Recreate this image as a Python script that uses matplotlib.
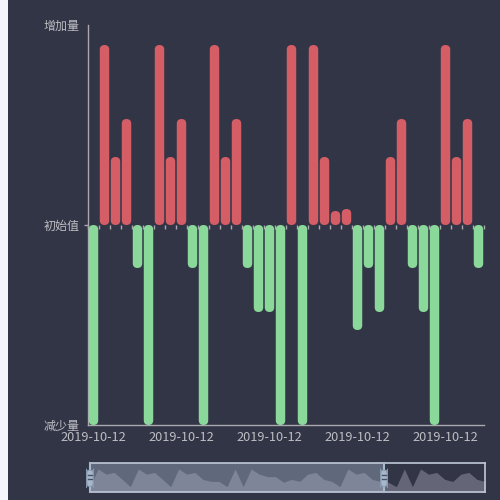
import matplotlib
matplotlib.use("Agg")
import matplotlib.pyplot as plt
from matplotlib.patches import FancyBboxPatch, Rectangle
from matplotlib.transforms import blended_transform_factory
import numpy as np

plt.rcParams['font.family'] = ['Noto Sans CJK SC', 'DejaVu Sans']

# ---- data (50 categories, first 36 visible in the zoom window) ----
categories = ['2019-10-12'] * 50
increase = [0, 90, 34, 53, 0, 0, 90, 34, 53, 0,
            0, 90, 34, 53, 0, 0, 0, 0, 90, 0,
            90, 34, 7, 8, 0, 0, 0, 34, 53, 0,
            0, 0, 90, 34, 53, 0, 0, 0, 0, 90,
            0, 90, 34, 53, 0, 0, 34, 53, 0, 0]
decrease = [100, 0, 0, 0, 21.5, 100, 0, 0, 0, 21.5,
            100, 0, 0, 0, 21.5, 43.5, 43.5, 100, 0, 100,
            0, 0, 0, 0, 52.5, 21.5, 43.5, 0, 0, 21.5,
            43.5, 100, 0, 0, 0, 21.5, 43.5, 52.5, 100, 0,
            100, 0, 0, 0, 21.5, 43.5, 0, 0, 21.5, 43.5]
y_tick_values = [100, 0, -100]
y_tick_labels = ['增加量', '初始值', '减少量']
visible_count = 36
window_end = 36.47
label_every = 8

BG = '#323546'
RED = '#d55d65'
GREEN = '#8ad99a'
AXIS = '#a9a9ae'
TEXT = '#bdbdc2'

W, H = 500, 500
fig = plt.figure(figsize=(5, 5), dpi=100, facecolor=BG)
fig.patches.append(Rectangle((0, 0), 8 / W, 1, transform=fig.transFigure,
                             facecolor='#f3f5fa', edgecolor='none', zorder=0))

# ---- main axes ----
L, R, T, B = 88, 484, 25, 425
ax = fig.add_axes([L / W, 1 - B / H, (R - L) / W, (B - T) / H], facecolor=BG)
ax.set_xlim(-0.5, visible_count - 0.5)
ax.set_ylim(-100, 100)

x = np.arange(visible_count)
inc_v = np.array(increase[:visible_count], dtype=float)
dec_v = -np.array(decrease[:visible_count], dtype=float)

xu_per_px = visible_count / (R - L)
yu_per_px = 200 / (B - T)
asp = yu_per_px / xu_per_px

def rounded(bars, color):
    for rect in bars:
        bb = rect.get_bbox()
        x0, x1 = sorted([bb.x0, bb.x1])
        y0, y1 = sorted([bb.y0, bb.y1])
        rect.remove()
        if y1 - y0 <= 0:
            continue
        w = x1 - x0
        p = FancyBboxPatch((x0, y0), w, y1 - y0,
                           boxstyle=f"round,pad=0,rounding_size={w/2}",
                           mutation_aspect=asp, facecolor=color,
                           edgecolor='none', zorder=3)
        ax.add_patch(p)

rounded(ax.bar(x, inc_v, width=0.86, color=RED), RED)
rounded(ax.bar(x, dec_v, width=0.86, color=GREEN), GREEN)

for s in ['top', 'right']:
    ax.spines[s].set_visible(False)
ax.spines['left'].set_color(AXIS)
ax.spines['bottom'].set_color(AXIS)
ax.spines['left'].set_linewidth(1)
ax.spines['bottom'].set_linewidth(1)

ax.set_yticks(y_tick_values)
ax.set_yticklabels(y_tick_labels)
ax.tick_params(axis='y', colors=AXIS, labelcolor=TEXT, labelsize=8.64,
               length=3, width=1, pad=3)
for i, t in enumerate(ax.yaxis.get_major_ticks()):
    if y_tick_values[i] != 0:
        t.tick1line.set_visible(False)

ax.set_xticks(x[::label_every])
ax.set_xticklabels(categories[:visible_count:label_every])
ax.tick_params(axis='x', length=0, labelcolor=TEXT, labelsize=9.2, pad=4)

zero_ax = ax.secondary_xaxis(0.5)
for s in zero_ax.spines.values():
    s.set_color(AXIS)
zero_ax.spines['top'].set_visible(False)
zero_ax.set_xticks(np.arange(visible_count + 1) - 0.5)
zero_ax.tick_params(axis='x', bottom=True, top=False, direction='out',
                    length=3, width=1, colors=AXIS,
                    labelbottom=False, labeltop=False)

# ---- data zoom slider ----
SL, SR, ST, SB = 90, 485, 463, 492
sax = fig.add_axes([SL / W, 1 - SB / H, (SR - SL) / W, (SB - ST) / H], facecolor=BG)
n = len(increase)
xi = np.arange(n)
shadow = np.array(increase, dtype=float) - np.array(decrease, dtype=float)
sax.set_xlim(0, n - 1)
sax.set_ylim(-157, 154)
sax.fill_between(xi, -157, shadow, color='#646577', linewidth=0, zorder=1)
sax.axvspan(0, window_end, color='#a7b7cc', alpha=0.4, linewidth=0, zorder=2)
sax.set_xticks([])
sax.set_yticks([])
for s in sax.spines.values():
    s.set_color('#c0c9d8')
    s.set_linewidth(1.2)

bt = blended_transform_factory(sax.transData, sax.transAxes)
hw = 7 * (n - 1) / (SR - SL)
for hx in [0, window_end]:
    sax.plot([hx, hx], [0, 1], transform=bt, color='#a7b7cc', lw=1.5,
             zorder=4, clip_on=False)
    sax.add_patch(FancyBboxPatch((hx - hw / 2, 0.2), hw, 0.55, transform=bt,
                                 boxstyle='round,pad=0,rounding_size=0.15',
                                 facecolor='#a7b7cc', edgecolor='#8797ae',
                                 lw=0.6, zorder=5, clip_on=False,
                                 mutation_aspect=4))
    for yy in [0.44, 0.6]:
        sax.plot([hx - hw * 0.3, hx + hw * 0.3], [yy, yy], transform=bt,
                 color='#4a5266', lw=1.0, zorder=6, clip_on=False)

fig.savefig('out.png', dpi=100, facecolor=BG)
